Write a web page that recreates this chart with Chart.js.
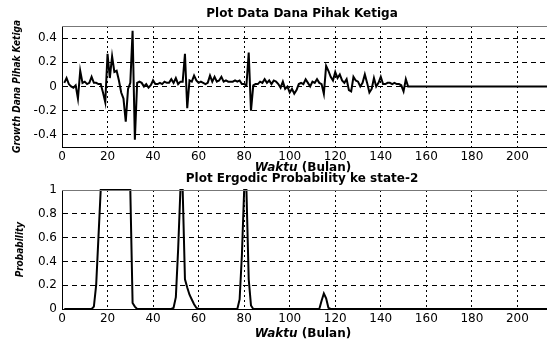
<!DOCTYPE html>
<html>
<head>
<meta charset="utf-8">
<script src="https://cdn.jsdelivr.net/npm/chart.js@4.4.0/dist/chart.umd.min.js"></script>
<style>
  body { margin: 0; background: #fff; }
  #wrap { position: relative; width: 547px; height: 344px; overflow: hidden; }
  canvas { position: absolute; left: 0; }
  #growthChart { top: 0; }
  #probChart { top: 172px; }
  .lbl {
    position: absolute; transform: translateX(-50%);
    font-family: 'DejaVu Sans', Arial, sans-serif; font-size: 12px; font-weight: bold;
    line-height: 14px; white-space: nowrap; color: #000;
  }
</style>
</head>
<body>
<div id="wrap">
  <canvas id="growthChart" width="547" height="172"></canvas>
  <canvas id="probChart" width="547" height="172"></canvas>
  <div class="lbl" style="left:302px;top:6px">Plot Data Dana Pihak Ketiga</div>
  <div class="lbl" style="left:303px;top:160px"><i>Waktu</i> (Bulan)</div>
  <div class="lbl" style="left:302px;top:171px">Plot Ergodic Probability ke state-2</div>
  <div class="lbl" style="left:303px;top:326px"><i>Waktu</i> (Bulan)</div>
</div>
<script>
        // growth of third party funds, month 1..152 (flat zero afterwards)
        const growth = [
            0.03, 0.07, 0.02, 0.00, -0.01, 0.01, -0.10, 0.13, 0.03, 0.04,
            0.02, 0.03, 0.08, 0.03, 0.03, 0.02, 0.02, -0.05, -0.13, 0.27,
            0.07, 0.25, 0.12, 0.13, 0.05, -0.05, -0.10, -0.29, -0.02, 0.03,
            0.46, -0.44, 0.03, 0.04, 0.03, 0.00, 0.02, -0.01, 0.01, 0.05,
            0.02, 0.02, 0.03, 0.02, 0.04, 0.03, 0.03, 0.06, 0.03, 0.07,
            0.02, 0.04, 0.04, 0.27, -0.18, 0.05, 0.04, 0.09, 0.05, 0.03,
            0.04, 0.03, 0.02, 0.03, 0.09, 0.04, 0.08, 0.04, 0.05, 0.08,
            0.04, 0.05, 0.04, 0.04, 0.04, 0.05, 0.04, 0.05, 0.02, 0.02,
            0.01, 0.28, -0.20, 0.01, 0.02, 0.02, 0.04, 0.03, 0.06, 0.03,
            0.05, 0.02, 0.05, 0.04, 0.02, -0.01, 0.04, -0.02, 0.00, -0.05,
            -0.02, -0.06, -0.03, 0.02, 0.03, 0.02, 0.06, 0.03, 0.00, 0.04,
            0.03, 0.06, 0.03, 0.02, -0.06, 0.17, 0.13, 0.08, 0.05, 0.12,
            0.07, 0.10, 0.05, 0.03, 0.06, -0.03, -0.04, 0.08, 0.05, 0.04,
            0.00, 0.03, 0.10, 0.03, -0.05, -0.02, 0.07, 0.00, 0.03, 0.08,
            0.02, 0.02, 0.03, 0.03, 0.02, 0.03, 0.02, 0.02, 0.01, -0.04,
            0.06, 0.00
        ];
        const lastMonth = 213;

        // ergodic probability of state 2 (month, value) where the line bends
        const probMonths = [1, 13, 14, 15, 16, 17, 30, 31, 32, 33,
                            48, 49, 50, 51, 52, 53, 54, 55, 56, 57, 58, 59, 60,
                            77, 78, 79, 80, 81, 82, 83, 84,
                            113, 114, 115, 116, 117, 118, 213];
        const probValues = [0, 0, 0.02, 0.2, 0.6, 1, 1, 0.05, 0.02, 0,
                            0, 0.01, 0.1, 0.5, 1, 1, 0.25, 0.18, 0.12, 0.08, 0.04, 0.01, 0,
                            0, 0.08, 0.45, 1, 1, 0.25, 0.03, 0,
                            0, 0.07, 0.13, 0.09, 0.01, 0, 0];

        const xTicks = [0, 20, 40, 60, 80, 100, 120, 140, 160, 180, 200];
        const growthTicks = [-0.4, -0.2, 0, 0.2, 0.4];
        const probTicks = [0, 0.2, 0.4, 0.6, 0.8, 1];

        const tickFont = { family: "'DejaVu Sans', Arial, sans-serif", size: 12 };
        const titleFont = { family: "'DejaVu Sans Condensed', 'Liberation Sans Narrow', 'Liberation Sans', Arial, sans-serif",
                            size: 10, style: 'italic', weight: 'bold' };

        // top border of the axes box
        const boxPlugin = {
            id: 'box',
            afterDraw(chart) {
                const a = chart.chartArea, ctx = chart.ctx;
                ctx.save();
                ctx.strokeStyle = '#777';
                ctx.lineWidth = 1;
                ctx.beginPath();
                ctx.moveTo(a.left, a.top + 0.5);
                ctx.lineTo(a.right, a.top + 0.5);
                ctx.stroke();
                ctx.restore();
            }
        };

        // matlab style labels: 0, 0.2, -0.4, 1
        const fmt = v => String(+Number(v).toFixed(1));

        function makeChart(id, points, yMin, yMax, yTicks, yTitle, padTop, xHeight, titlePad) {
            return new Chart(document.getElementById(id), {
                type: 'line',
                data: {
                    datasets: [{
                        data: points,
                        borderColor: '#000',
                        borderWidth: 2,
                        pointRadius: 0,
                        tension: 0,
                        clip: false
                    }]
                },
                options: {
                    responsive: false,
                    animation: false,
                    layout: { padding: { top: padTop, left: 0, right: 0, bottom: 0 } },
                    plugins: { legend: { display: false }, tooltip: { enabled: false } },
                    scales: {
                        x: {
                            type: 'linear', min: 0, max: lastMonth,
                            afterBuildTicks: s => { s.ticks = xTicks.map(v => ({ value: v })); },
                            afterFit: s => { s.height = xHeight; },
                            grid: { color: '#000', lineWidth: 1, drawTicks: false },
                            border: { color: '#000', width: 1, dash: [2, 3] },
                            ticks: { color: '#000', font: tickFont, padding: 3, maxRotation: 0, callback: fmt }
                        },
                        y: {
                            min: yMin, max: yMax,
                            afterBuildTicks: s => { s.ticks = yTicks.map(v => ({ value: v })); },
                            afterFit: s => { s.width = 62; },
                            grid: { color: '#000', lineWidth: 1, drawTicks: false },
                            border: { color: '#000', width: 1, dash: [5, 4] },
                            ticks: { color: '#000', font: tickFont, padding: 5, callback: fmt },
                            title: { display: true, text: yTitle, color: '#000', font: titleFont,
                                     padding: { top: titlePad, bottom: 0 } }
                        }
                    }
                },
                plugins: [boxPlugin]
            });
        }

        const growthPoints = growth.map((v, i) => ({ x: i + 1, y: v }));
        growthPoints.push({ x: lastMonth, y: 0 });
        const probPoints = probMonths.map((m, i) => ({ x: m, y: probValues[i] }));

        makeChart('growthChart', growthPoints, -0.5, 0.5, growthTicks, 'Growth Dana Pihak Ketiga', 26, 25, 11);
        makeChart('probChart', probPoints, 0, 1, probTicks, 'Probability', 18, 35, 14);
</script>
</body>
</html>
